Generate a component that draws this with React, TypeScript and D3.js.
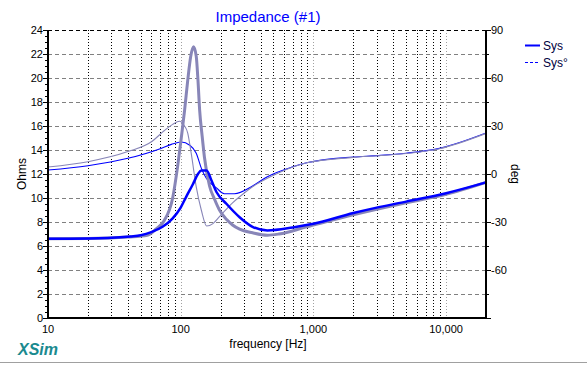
import React, { useEffect, useRef } from 'react';
import * as d3 from 'd3';

// Sys (blue) impedance magnitude, ohms
const sysMagFreq = [10, 24, 42, 50, 60, 73, 87, 100, 110, 123, 135, 143, 157, 170, 186, 222, 278, 348, 450, 700, 1000, 2000, 3000, 5000, 10000, 20000];
const sysMag = [6.6, 6.65, 6.8, 6.9, 7.15, 7.6, 8.3, 9.2, 10.1, 11.1, 12.0, 12.3, 12.3, 11.5, 10.5, 9.5, 8.4, 7.6, 7.3, 7.55, 7.85, 8.75, 9.2, 9.7, 10.4, 11.3];

// Sys (blue) phase, degrees
const sysPhFreq = [10, 20, 40, 71, 85, 101, 117, 131, 143, 156, 186, 213, 254, 348, 450, 700, 890, 2000, 3000, 5000, 8900, 20000];
const sysPh = [2.5, 5.2, 9.8, 16, 18.5, 20, 18, 13, 3.7, -2.7, -8.7, -12.3, -12.3, -7.5, -1.7, 4.5, 7, 10.6, 11.5, 13, 16, 25.6];

// reference trace (grey) magnitude, ohms
const refMagFreq = [10, 20, 40, 56, 65, 75, 87, 95, 101, 107, 113, 119, 125, 131, 135, 139, 145, 151, 165, 180, 196, 222, 246, 278, 348, 450, 550, 890, 2000, 5000, 10000, 20000];
const refMag = [6.6, 6.62, 6.75, 6.9, 7.4, 8.1, 10.0, 12.7, 15.0, 17.3, 19.8, 21.8, 22.6, 21.8, 19.8, 17.3, 15.2, 13.4, 11.0, 9.9, 9.0, 8.2, 7.75, 7.4, 7.1, 6.9, 7.0, 7.6, 8.6, 9.6, 10.3, 11.3];

// reference trace (grey) phase, degrees
const refPhFreq = [10, 20, 40, 61, 75, 87, 98, 106, 113, 120, 131, 143, 157, 175, 196, 246, 300, 348, 450, 550, 890, 2000, 5000, 8900, 20000];
const refPh = [4.4, 7.7, 14, 20.5, 27, 31, 33, 30.5, 25.6, 13, -8, -22.5, -32.5, -31, -26.7, -18, -12, -8, -2.7, 0.8, 7, 10.4, 12.8, 15.8, 25.4];

const ohmTicks = [0, 2, 4, 6, 8, 10, 12, 14, 16, 18, 20, 22, 24];
const degTicks = [-60, -30, 0, 30, 60, 90];
const freqLabels = [10, 100, 1000, 10000];

const BLUE = '#0000ff';
const GREY = '#8886b8';

export default function App() {
  const svgRef = useRef<SVGSVGElement>(null);

  useEffect(() => {
    if (!svgRef.current) return;
    const svg = d3.select(svgRef.current);
    svg.selectAll('*').remove();

    const left = 48, right = 486, top = 30, bottom = 318;
    const font = 'Liberation Sans, Arial, sans-serif';

    const x = d3.scaleLog().domain([10, 20000]).range([left, right]);
    const yOhm = d3.scaleLinear().domain([0, 24]).range([bottom, top]);
    const yDeg = d3.scaleLinear().domain([-90, 90]).range([bottom, top]);

    svg.append('rect').attr('width', 587).attr('height', 365).attr('fill', '#fff');

    // vertical grid (dotted)
    const gridFreqs: number[] = [];
    for (let dec = 10; dec <= 10000; dec *= 10) {
      for (let m = 1; m <= 9; m++) {
        const f = dec * m;
        if (f > 10 && f < 20000) gridFreqs.push(f);
      }
    }
    svg.append('g').selectAll('line').data(gridFreqs).enter().append('line')
      .attr('x1', d => Math.round(x(d)) + 0.5).attr('x2', d => Math.round(x(d)) + 0.5)
      .attr('y1', top).attr('y2', bottom)
      .attr('stroke', d => ([100, 1000, 10000].includes(d) ? '#a0a0a0' : '#000'))
      .attr('stroke-width', 1)
      .attr('stroke-dasharray', '1,2');

    // horizontal grid (dashed)
    svg.append('g').selectAll('line').data(ohmTicks.filter(t => t > 0)).enter().append('line')
      .attr('x1', left).attr('x2', right)
      .attr('y1', d => Math.round(yOhm(d)) + 0.5).attr('y2', d => Math.round(yOhm(d)) + 0.5)
      .attr('stroke', d => (d === 24 ? '#000' : '#808080'))
      .attr('stroke-dasharray', '4,3');

    // curves
    const line = (ys: d3.ScaleLinear<number, number>) => d3.line<[number, number]>()
      .x(d => x(d[0])).y(d => ys(d[1])).curve(d3.curveMonotoneX);
    const zip = (a: number[], b: number[]) => a.map((f, i) => [f, b[i]] as [number, number]);

    svg.append('path').datum(zip(sysPhFreq, sysPh)).attr('d', line(yDeg))
      .attr('fill', 'none').attr('stroke', BLUE).attr('stroke-width', 1.1);
    svg.append('path').datum(zip(refPhFreq, refPh)).attr('d', line(yDeg))
      .attr('fill', 'none').attr('stroke', GREY).attr('stroke-width', 1.1);
    svg.append('path').datum(zip(refMagFreq, refMag)).attr('d', line(yOhm))
      .attr('fill', 'none').attr('stroke', GREY).attr('stroke-width', 3);
    svg.append('path').datum(zip(sysMagFreq, sysMag)).attr('d', line(yOhm))
      .attr('fill', 'none').attr('stroke', BLUE).attr('stroke-width', 2.5);

    // axes frame
    svg.append('line').attr('x1', left).attr('x2', left).attr('y1', top).attr('y2', bottom + 1)
      .attr('stroke', '#000').attr('stroke-width', 2);
    svg.append('line').attr('x1', right).attr('x2', right).attr('y1', top).attr('y2', bottom + 1)
      .attr('stroke', '#000').attr('stroke-width', 2);
    svg.append('line').attr('x1', left).attr('x2', right + 1).attr('y1', bottom).attr('y2', bottom)
      .attr('stroke', '#000').attr('stroke-width', 2);

    // left ticks
    const minorOhm = d3.range(0, 24.01, 0.5).filter(v => v % 2 !== 0);
    svg.append('g').selectAll('line').data(minorOhm).enter().append('line')
      .attr('x1', left - 3).attr('x2', left)
      .attr('y1', d => Math.round(yOhm(d)) + 0.5).attr('y2', d => Math.round(yOhm(d)) + 0.5)
      .attr('stroke', '#000');
    svg.append('g').selectAll('line').data(ohmTicks).enter().append('line')
      .attr('x1', left - 5).attr('x2', left)
      .attr('y1', d => Math.round(yOhm(d)) + 0.5).attr('y2', d => Math.round(yOhm(d)) + 0.5)
      .attr('stroke', '#000');
    svg.append('g').selectAll('text').data(ohmTicks).enter().append('text')
      .attr('x', left - 5).attr('y', d => yOhm(d) + 4)
      .attr('text-anchor', 'end').attr('font-family', font).attr('font-size', 11)
      .attr('fill', '#000').text(d => String(d));

    // right ticks
    const minorDeg = d3.range(-90, 91, 15).filter(v => v % 30 !== 0);
    svg.append('g').selectAll('line').data(minorDeg).enter().append('line')
      .attr('x1', right).attr('x2', right + 3)
      .attr('y1', d => Math.round(yDeg(d)) + 0.5).attr('y2', d => Math.round(yDeg(d)) + 0.5)
      .attr('stroke', '#000');
    svg.append('g').selectAll('line').data([-90, ...degTicks]).enter().append('line')
      .attr('x1', right).attr('x2', right + 5)
      .attr('y1', d => Math.round(yDeg(d)) + 0.5).attr('y2', d => Math.round(yDeg(d)) + 0.5)
      .attr('stroke', '#000');
    svg.append('g').selectAll('text').data(degTicks).enter().append('text')
      .attr('x', right + 5).attr('y', d => yDeg(d) + 4)
      .attr('text-anchor', 'start').attr('font-family', font).attr('font-size', 11)
      .attr('fill', '#000').text(d => String(d));

    // bottom labels
    svg.append('g').selectAll('text').data(freqLabels).enter().append('text')
      .attr('x', d => x(d)).attr('y', bottom + 15)
      .attr('text-anchor', 'middle').attr('font-family', font).attr('font-size', 11)
      .attr('fill', '#000').text(d => d3.format(',')(d));

    // titles
    svg.append('text').attr('x', 268).attr('y', 22).attr('text-anchor', 'middle')
      .attr('font-family', font).attr('font-size', 15).attr('fill', BLUE).text('Impedance (#1)');
    svg.append('text').attr('x', 268).attr('y', 348).attr('text-anchor', 'middle')
      .attr('font-family', font).attr('font-size', 12).attr('fill', '#000').text('frequency [Hz]');
    svg.append('text').attr('transform', `translate(26,${(top + bottom) / 2}) rotate(-90)`)
      .attr('text-anchor', 'middle').attr('font-family', font).attr('font-size', 12)
      .attr('fill', '#000').text('Ohms');
    svg.append('text').attr('transform', `translate(511,${(top + bottom) / 2}) rotate(90)`)
      .attr('text-anchor', 'middle').attr('font-family', font).attr('font-size', 12)
      .attr('fill', '#000').text('deg');
    svg.append('text').attr('x', 18).attr('y', 355)
      .attr('font-family', font).attr('font-size', 16).attr('font-weight', 'bold')
      .attr('font-style', 'italic').attr('fill', '#1a8a8f').text('XSim');

    // legend
    svg.append('line').attr('x1', 525).attr('x2', 540).attr('y1', 45.5).attr('y2', 45.5)
      .attr('stroke', BLUE).attr('stroke-width', 2);
    svg.append('text').attr('x', 543).attr('y', 50).attr('font-family', font).attr('font-size', 12)
      .attr('fill', '#000040').text('Sys');
    svg.append('line').attr('x1', 525).attr('x2', 540).attr('y1', 62.5).attr('y2', 62.5)
      .attr('stroke', BLUE).attr('stroke-width', 1).attr('stroke-dasharray', '3,2');
    svg.append('text').attr('x', 543).attr('y', 67).attr('font-family', font).attr('font-size', 12)
      .attr('fill', '#000040').text('Sys°');

    // bottom separator
    svg.append('line').attr('x1', 0).attr('x2', 587).attr('y1', 362.5).attr('y2', 362.5)
      .attr('stroke', '#a0a0a0');
  }, []);

  return (
    <svg ref={svgRef} width={587} height={365}
      style={{ position: 'absolute', left: 0, top: 0, display: 'block' }} />
  );
}
